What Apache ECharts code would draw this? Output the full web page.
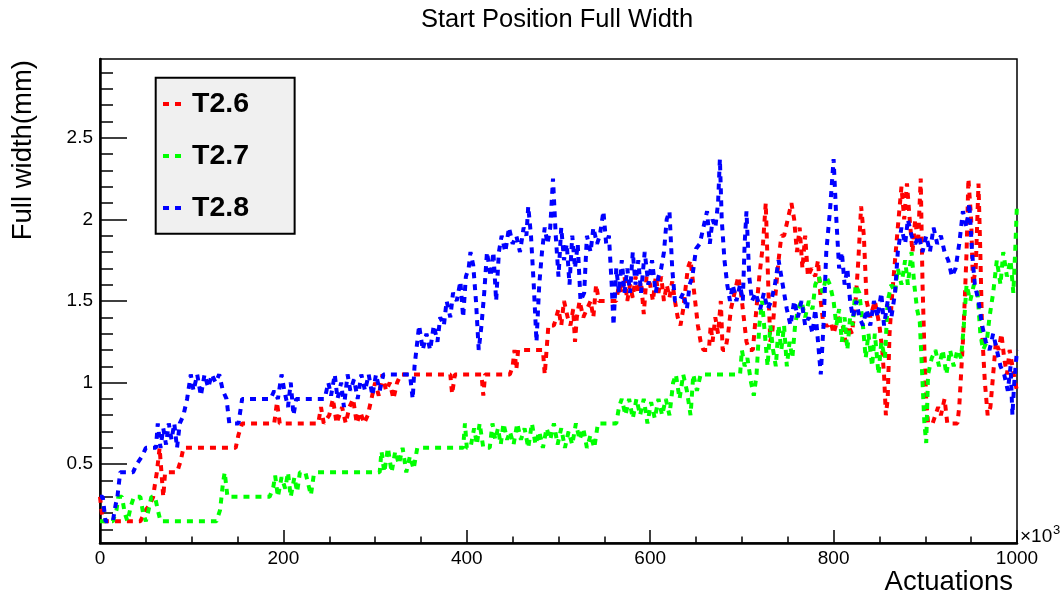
<!DOCTYPE html>
<html><head><meta charset="utf-8">
<script src="https://cdn.jsdelivr.net/npm/echarts@6/dist/echarts.min.js"></script>
<style>html,body{margin:0;padding:0;background:#fff}#c{width:1064px;height:597px}</style>
</head><body><div id="c"></div>
<script>
const FONT = '"Liberation Sans", Arial, Helvetica, sans-serif';
const seriesNames = ['T2.6', 'T2.7', 'T2.8'];
const seriesColors = ['#ff0000', '#00ff00', '#0000ff'];
const xTickLabels = [0, 200, 400, 600, 800, 1000];
const yLabelValues = [0.5, 1, 1.5, 2, 2.5];
const yMinorValues = [0.1,0.2,0.3,0.4,0.6,0.7,0.8,0.9,1.1,1.2,1.3,1.4,1.6,1.7,1.8,1.9,2.1,2.2,2.3,2.4,2.6,2.7,2.8,2.9];

// T2.6 (red): [actuations x10^3, full width mm]
const t26 = [[0,0.3],[2,0.2],[4,0.15],[44,0.15],[50,0.22],[54,0.25],[58,0.3],[60,0.38],[62,0.45],[65,0.6],[67,0.45],[69,0.3],[71,0.45],[84,0.45],[88,0.52],[91,0.6],[148,0.6],[151,0.68],[155,0.75],[190,0.75],[193,0.88],[196,0.75],[238,0.75],[241,0.85],[244,0.75],[250,0.8],[254,0.9],[258,0.75],[264,0.85],[268,0.75],[272,0.85],[276,0.9],[280,0.75],[284,0.82],[288,0.75],[292,0.8],[296,0.9],[300,1.0],[304,0.92],[308,1.05],[312,0.95],[316,1.0],[320,0.9],[324,1.0],[328,1.05],[382,1.05],[384,0.93],[387,1.05],[416,1.05],[418,0.92],[420,1.05],[447,1.05],[450,1.1],[452,1.2],[454,1.08],[456,1.2],[483,1.2],[485,1.05],[487,1.2],[489,1.35],[495,1.35],[500,1.45],[503,1.35],[506,1.5],[510,1.4],[513,1.35],[516,1.45],[518,1.25],[520,1.4],[523,1.5],[527,1.4],[531,1.45],[535,1.5],[538,1.4],[541,1.6],[544,1.5],[563,1.5],[566,1.6],[569,1.55],[572,1.65],[575,1.5],[578,1.6],[581,1.52],[584,1.65],[587,1.55],[590,1.62],[593,1.42],[596,1.65],[600,1.6],[603,1.5],[606,1.65],[609,1.55],[612,1.65],[615,1.5],[618,1.6],[621,1.52],[624,1.62],[627,1.5],[630,1.4],[633,1.35],[636,1.45],[638,1.55],[641,1.7],[644,1.75],[647,1.6],[650,1.45],[652,1.35],[655,1.25],[658,1.2],[664,1.2],[666,1.35],[668,1.25],[671,1.4],[674,1.3],[677,1.5],[679,1.2],[682,1.2],[685,1.3],[688,1.45],[692,1.55],[696,1.65],[699,1.55],[702,1.4],[705,1.25],[708,1.2],[712,1.2],[715,1.4],[719,1.65],[723,1.85],[726,2.1],[729,1.55],[731,1.25],[733,1.3],[736,1.5],[740,1.75],[743,1.9],[746,1.9],[750,2.0],[754,2.1],[757,2.0],[760,1.8],[763,1.95],[766,1.7],[769,1.9],[772,1.65],[776,1.7],[780,1.65],[783,1.75],[786,1.5],[789,1.35],[794,1.35],[797,1.37],[800,1.3],[805,1.4],[810,1.35],[813,1.25],[816,1.35],[820,1.3],[824,1.5],[827,1.75],[830,2.08],[833,1.9],[836,1.5],[840,1.4],[845,1.5],[850,1.35],[853,1.2],[855,1.05],[857,0.8],[859,0.9],[861,1.3],[864,1.55],[867,1.75],[870,1.95],[874,2.2],[877,2.0],[880,2.22],[883,2.0],[886,1.8],[889,2.0],[892,1.85],[895,2.25],[897,1.6],[899,1.2],[901,0.9],[903,0.75],[908,0.75],[911,0.8],[914,0.85],[917,0.8],[921,0.9],[924,0.75],[935,0.75],[937,0.85],[939,1.05],[941,1.25],[943,1.5],[945,1.8],[947,2.25],[950,2.0],[952,1.6],[955,1.7],[958,2.22],[960,1.8],[962,1.3],[965,1.0],[968,0.8],[971,0.85],[974,1.05],[977,1.25],[980,1.2],[983,1.3],[986,1.15],[989,1.05],[992,1.2],[995,1.1],[998,1.0],[1000,0.95]];

// T2.7 (green)
const t27 = [[0,0.15],[14,0.15],[18,0.22],[20,0.3],[24,0.3],[27,0.2],[30,0.15],[34,0.25],[37,0.3],[44,0.3],[47,0.2],[50,0.15],[53,0.22],[56,0.3],[60,0.3],[63,0.22],[66,0.15],[127,0.15],[131,0.22],[134,0.38],[136,0.45],[139,0.3],[185,0.3],[189,0.36],[191,0.43],[194,0.3],[198,0.42],[202,0.35],[205,0.45],[208,0.3],[212,0.42],[215,0.33],[218,0.45],[224,0.45],[227,0.38],[230,0.31],[233,0.43],[236,0.45],[305,0.45],[307,0.58],[310,0.45],[314,0.6],[318,0.45],[322,0.58],[326,0.5],[330,0.6],[334,0.45],[338,0.55],[342,0.47],[346,0.6],[396,0.6],[398,0.75],[400,0.6],[404,0.6],[408,0.72],[411,0.62],[414,0.75],[418,0.6],[425,0.6],[428,0.75],[431,0.65],[434,0.72],[437,0.62],[440,0.75],[444,0.65],[447,0.7],[451,0.62],[455,0.75],[459,0.65],[463,0.72],[467,0.6],[471,0.75],[475,0.62],[479,0.7],[483,0.6],[487,0.72],[491,0.65],[495,0.75],[499,0.62],[503,0.72],[507,0.6],[511,0.7],[515,0.62],[519,0.75],[523,0.65],[527,0.72],[531,0.6],[535,0.68],[539,0.6],[543,0.75],[563,0.75],[566,0.85],[569,0.9],[573,0.8],[577,0.9],[581,0.78],[585,0.9],[589,0.8],[593,0.9],[597,0.75],[601,0.88],[605,0.78],[609,0.9],[613,0.8],[617,0.9],[621,0.8],[625,1.0],[628,1.05],[632,0.9],[636,1.05],[640,0.95],[644,0.8],[647,1.05],[651,0.95],[655,1.05],[698,1.05],[700,1.2],[703,1.1],[706,1.15],[710,1.0],[713,0.92],[716,1.05],[719,1.35],[722,1.5],[725,1.3],[728,1.1],[731,1.35],[734,1.2],[737,1.1],[740,1.35],[743,1.2],[746,1.35],[749,1.1],[752,1.25],[755,1.15],[758,1.35],[761,1.45],[765,1.5],[769,1.4],[773,1.5],[777,1.45],[780,1.6],[784,1.65],[788,1.55],[792,1.65],[796,1.6],[800,1.5],[803,1.35],[806,1.45],[809,1.25],[812,1.4],[815,1.2],[818,1.4],[821,1.35],[824,1.6],[828,1.55],[832,1.35],[835,1.15],[838,1.3],[842,1.1],[845,1.3],[849,1.05],[852,1.25],[856,1.15],[859,1.5],[863,1.6],[867,1.55],[870,1.7],[874,1.6],[878,1.75],[881,1.6],[885,1.8],[888,1.6],[891,1.45],[894,1.37],[897,1.0],[899,0.75],[901,0.63],[903,1.05],[907,1.15],[911,1.2],[915,1.1],[919,1.2],[923,1.05],[927,1.2],[931,1.1],[935,1.2],[939,1.15],[942,1.35],[945,1.6],[949,1.5],[953,1.6],[957,1.55],[960,1.3],[963,1.2],[967,1.25],[970,1.4],[974,1.55],[978,1.75],[982,1.6],[985,1.8],[989,1.65],[993,1.75],[996,1.55],[998,1.8],[1000,2.1]];

// T2.8 (blue)
const t28 = [[0,0.3],[3,0.3],[6,0.15],[14,0.15],[17,0.25],[19,0.3],[22,0.45],[36,0.45],[40,0.5],[46,0.55],[50,0.6],[61,0.6],[63,0.75],[66,0.6],[69,0.72],[72,0.62],[75,0.75],[78,0.65],[81,0.75],[84,0.6],[87,0.75],[91,0.8],[95,0.9],[99,1.05],[102,0.95],[106,1.05],[110,0.92],[114,1.05],[118,0.97],[122,1.05],[126,1.0],[130,1.05],[134,0.95],[138,0.9],[141,0.75],[151,0.75],[155,0.9],[186,0.9],[190,0.95],[194,0.9],[198,1.05],[201,0.95],[205,0.85],[208,1.0],[211,0.8],[214,0.9],[245,0.9],[249,1.0],[252,0.92],[256,1.05],[259,0.9],[263,1.0],[266,0.85],[270,1.05],[273,0.95],[277,1.02],[281,0.9],[285,1.05],[289,0.95],[293,1.05],[297,0.92],[301,1.05],[305,0.95],[309,1.05],[338,1.05],[341,0.9],[343,1.1],[345,1.2],[348,1.35],[352,1.2],[356,1.3],[360,1.2],[364,1.35],[368,1.25],[371,1.4],[375,1.35],[378,1.5],[382,1.4],[385,1.55],[389,1.5],[393,1.62],[396,1.4],[399,1.65],[402,1.7],[404,1.8],[407,1.72],[410,1.5],[413,1.2],[416,1.35],[419,1.55],[422,1.8],[426,1.65],[429,1.8],[432,1.5],[435,1.8],[438,1.9],[442,1.8],[446,1.95],[450,1.85],[454,1.9],[458,1.8],[462,1.95],[465,1.9],[467,2.08],[470,1.9],[473,1.6],[476,1.25],[479,1.6],[482,1.8],[485,1.95],[488,1.85],[491,1.95],[494,2.25],[497,1.9],[500,1.65],[503,1.95],[506,1.75],[509,1.85],[512,1.6],[515,1.9],[518,1.7],[521,1.85],[524,1.5],[528,1.55],[531,1.9],[535,1.8],[538,1.95],[542,1.85],[545,1.9],[549,2.05],[552,1.85],[555,1.9],[558,1.6],[560,1.35],[563,1.7],[566,1.55],[569,1.75],[572,1.55],[575,1.7],[578,1.55],[581,1.8],[584,1.6],[587,1.75],[590,1.55],[594,1.8],[598,1.6],[602,1.75],[606,1.55],[609,1.65],[612,1.7],[615,1.8],[618,2.0],[621,2.05],[624,1.7],[627,1.5],[632,1.5],[636,1.55],[640,1.45],[643,1.6],[646,1.65],[650,1.82],[654,1.85],[658,1.95],[662,2.05],[665,1.85],[668,2.0],[671,1.95],[674,2.1],[676,2.37],[678,2.0],[681,1.75],[684,1.6],[687,1.5],[690,1.6],[694,1.5],[698,1.6],[701,1.5],[703,1.85],[705,2.05],[708,1.65],[711,1.5],[715,1.55],[720,1.45],[724,1.55],[728,1.45],[732,1.5],[736,1.6],[740,1.75],[743,1.65],[746,1.55],[749,1.45],[753,1.35],[757,1.5],[761,1.4],[765,1.5],[769,1.35],[773,1.4],[777,1.3],[780,1.45],[783,1.25],[786,1.05],[789,1.35],[792,1.8],[796,2.05],[800,2.37],[803,2.0],[806,1.7],[809,1.8],[812,1.6],[815,1.7],[818,1.5],[821,1.4],[825,1.5],[828,1.4],[832,1.35],[836,1.45],[840,1.35],[844,1.5],[848,1.4],[852,1.55],[855,1.35],[859,1.5],[863,1.4],[867,1.55],[870,1.8],[874,1.95],[878,1.85],[881,2.0],[885,1.9],[889,1.85],[893,1.9],[897,1.8],[901,1.9],[905,1.8],[909,1.95],[913,1.85],[917,1.9],[921,1.8],[925,1.75],[929,1.65],[933,1.7],[937,1.85],[941,2.05],[945,1.95],[948,2.1],[951,1.8],[954,1.6],[958,1.5],[962,1.35],[966,1.25],[970,1.2],[974,1.3],[978,1.2],[982,1.1],[986,1.05],[990,0.95],[993,1.1],[995,0.8],[997,1.0],[1000,1.2]];

const seriesData = [t26, t27, t28];
const yMin = 0.017, yMax = 2.983;
const tickStyle = { color: '#000', width: 1.5 };

const chart = echarts.init(document.getElementById('c'), null, { renderer: 'canvas', width: 1064, height: 597 });
chart.setOption({
  animation: false,
  backgroundColor: '#ffffff',
  title: {
    text: 'Start Position Full Width', left: 421, top: 7.4, padding: 0,
    textStyle: { fontFamily: FONT, fontSize: 25.5, fontWeight: 'normal', color: '#000' }
  },
  grid: { left: 100, right: 47, top: 59, bottom: 54, show: true, borderColor: '#000', borderWidth: 1.5, backgroundColor: 'transparent' },
  legend: {
    show: true, orient: 'vertical', left: 155.7, top: 77.7, data: seriesNames, selectedMode: false,
    backgroundColor: '#f0f0f0', borderColor: '#000', borderWidth: 2, borderRadius: 0,
    padding: [11.3, 45.6, 10.7, 5.3], itemGap: 22, itemWidth: 19, itemHeight: 14,
    textStyle: { fontFamily: FONT, fontSize: 28.5, fontWeight: 'bold', color: '#000', lineHeight: 30, padding: [0, 0, 0, 5] },
    lineStyle: { width: 4 },
    itemStyle: { color: 'rgba(0,0,0,0)', borderWidth: 0, borderColor: 'rgba(0,0,0,0)' }
  },
  xAxis: {
    type: 'value', min: xTickLabels[0], max: xTickLabels[xTickLabels.length - 1], interval: 200,
    axisLine: { onZero: false, lineStyle: { color: '#000', width: 2.5 } },
    axisTick: { inside: true, length: 13, lineStyle: tickStyle },
    minorTick: { show: true, splitNumber: 4, length: 6.5, lineStyle: tickStyle },
    axisLabel: { fontFamily: FONT, fontSize: 19, color: '#000', margin: 6, formatter: v => String(v) },
    splitLine: { show: false }, minorSplitLine: { show: false }
  },
  yAxis: [
    {
      type: 'value', min: yMin, max: yMax, position: 'left',
      axisLine: { show: true, onZero: false, lineStyle: { color: '#000', width: 2.5 } },
      axisTick: { show: true, inside: true, length: 27, customValues: yLabelValues, lineStyle: tickStyle },
      axisLabel: { show: true, customValues: yLabelValues, fontFamily: FONT, fontSize: 19, color: '#000', margin: 7, padding: [3, 0, 0, 0] },
      splitLine: { show: false }
    },
    {
      type: 'value', min: yMin, max: yMax, position: 'left', offset: 0,
      axisLine: { show: false, onZero: false },
      axisTick: { show: true, inside: true, length: 13, customValues: yMinorValues, lineStyle: tickStyle },
      axisLabel: { show: false },
      splitLine: { show: false }
    }
  ],
  graphic: [
    { type: 'text', x: 1013, y: 582.5, style: { text: 'Actuations', fontFamily: FONT, fontSize: 27.5, fill: '#000', align: 'right', verticalAlign: 'middle' } },
    { type: 'text', x: 23.8, y: 60, rotation: Math.PI / 2, style: { text: 'Full width(mm)', fontFamily: FONT, fontSize: 27.5, fill: '#000', align: 'right', verticalAlign: 'middle' } },
    { type: 'text', x: 1020, y: 536.4, style: { text: '×10', fontFamily: FONT, fontSize: 19, fill: '#000', align: 'left', verticalAlign: 'middle' } },
    { type: 'text', x: 1053, y: 530.5, style: { text: '3', fontFamily: FONT, fontSize: 13, fill: '#000', align: 'left', verticalAlign: 'middle' } }
  ],
  series: seriesNames.map((name, i) => ({
    name: name, type: 'line', data: seriesData[i], yAxisIndex: 0,
    symbol: 'none', showSymbol: false, clip: true, z: 2 + i,
    lineStyle: { color: seriesColors[i], width: 4, type: [6, 6], cap: 'butt', join: 'bevel' },
    itemStyle: { color: seriesColors[i] }
  }))
});
</script>
</body></html>
